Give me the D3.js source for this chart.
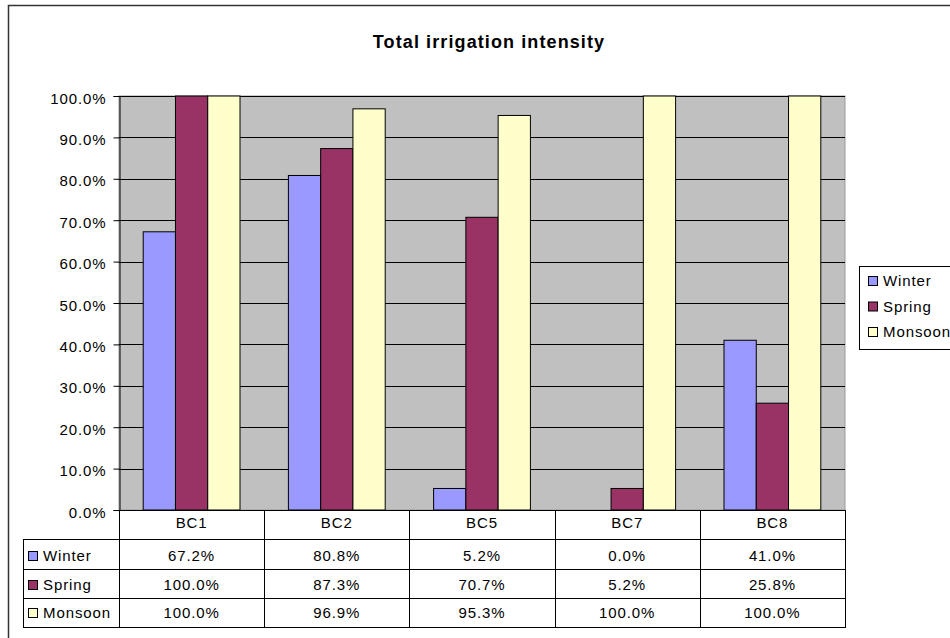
<!DOCTYPE html>
<html><head><meta charset="utf-8">
<script src="https://cdn.jsdelivr.net/npm/d3@7"></script>
<style>
html,body{margin:0;padding:0;background:#fff;}
svg text{font-family:"Liberation Sans",Arial,sans-serif;}
</style></head>
<body>
<svg id="c" width="950" height="638"></svg>
<script>
const categories = ["BC1","BC2","BC5","BC7","BC8"];
const seriesNames = ["Winter","Spring","Monsoon"];
const winter = [67.2, 80.8, 5.2, 0.0, 41.0];
const spring = [100.0, 87.3, 70.7, 5.2, 25.8];
const monsoon = [100.0, 96.9, 95.3, 100.0, 100.0];
const yTicks = [0,10,20,30,40,50,60,70,80,90,100];
const colors = ["#9999FF","#993366","#FFFFCC"];
const seriesValues = [winter, spring, monsoon];

const svg = d3.select("#c");
const L = 119, R = 845, T = 96, B = 510;
const fs = 15, ls = 0.9;

// outer border
svg.append("rect").attr("x",8.5).attr("y",5.5).attr("width",960).attr("height",640)
  .attr("fill","#fff").attr("stroke","#333").attr("stroke-width",1.5);

svg.append("text").attr("x",489).attr("y",48).attr("text-anchor","middle")
  .attr("font-size",18).attr("font-weight","bold").attr("letter-spacing",1.1)
  .text("Total irrigation intensity");

const x0 = d3.scaleBand().domain(categories).range([L,R]).paddingInner(0).paddingOuter(0);
const x1 = d3.scaleBand().domain(seriesNames).range([0,x0.bandwidth()]).paddingInner(0).paddingOuter(0.75);
const y = d3.scaleLinear().domain([0,100]).range([B,T]);

svg.append("rect").attr("x",L).attr("y",T).attr("width",R-L).attr("height",B-T)
  .attr("fill","#C0C0C0").attr("stroke","#999").attr("stroke-width",1);

// gridlines
svg.append("g").selectAll("line").data(yTicks.filter(d=>d>0)).join("line")
  .attr("x1",L).attr("x2",R).attr("y1",d=>Math.round(y(d))+0.5).attr("y2",d=>Math.round(y(d))+0.5)
  .attr("stroke","#000").attr("stroke-width",1);

// bars
seriesNames.forEach((s,si)=>{
  svg.append("g").selectAll("rect").data(categories).join("rect")
    .attr("x",(c)=>x0(c)+x1(s))
    .attr("y",(c,i)=>y(seriesValues[si][i]))
    .attr("width",x1.bandwidth())
    .attr("height",(c,i)=>B-y(seriesValues[si][i]))
    .attr("fill",colors[si]).attr("stroke","#000").attr("stroke-width",1);
});

// y axis
const yAxis = d3.axisLeft(y).tickValues(yTicks).tickSize(6).tickPadding(8)
  .tickFormat(d=>d3.format(".1f")(d)+"%");
const ga = svg.append("g").attr("transform",`translate(${L+0.5},0)`).call(yAxis);
ga.select(".domain").attr("stroke","#000");
ga.selectAll(".tick line").attr("stroke","#000");
ga.selectAll("text").attr("font-size",fs).attr("fill","#000").attr("letter-spacing",ls)
  .attr("dy",null).attr("y",7).attr("x",-13)
  .attr("font-family","Liberation Sans, Arial, sans-serif");

// table
const rowsY = [510,539,569,598,627];
const baseY = [528,561,590,618];
const tL = 23;
const tg = svg.append("g");
tg.append("line").attr("x1",L).attr("x2",R).attr("y1",rowsY[0]+0.5).attr("y2",rowsY[0]+0.5).attr("stroke","#000");
for(let r=1;r<rowsY.length;r++){
  tg.append("line").attr("x1",tL).attr("x2",R+1).attr("y1",rowsY[r]+0.5).attr("y2",rowsY[r]+0.5).attr("stroke","#000");
}
tg.append("line").attr("x1",tL+0.5).attr("x2",tL+0.5).attr("y1",rowsY[1]).attr("y2",rowsY[4]+1).attr("stroke","#000");
categories.forEach(c=>{
  const xx = Math.round(x0(c))+0.5;
  tg.append("line").attr("x1",xx).attr("x2",xx).attr("y1",B).attr("y2",rowsY[4]+1).attr("stroke","#000");
});
tg.append("line").attr("x1",R+0.5).attr("x2",R+0.5).attr("y1",B).attr("y2",rowsY[4]+1).attr("stroke","#000");
tg.selectAll("text.h").data(categories).join("text").attr("class","h")
  .attr("x",c=>x0(c)+x0.bandwidth()/2).attr("y",baseY[0])
  .attr("text-anchor","middle").attr("font-size",fs).attr("letter-spacing",ls).text(c=>c);
seriesNames.forEach((s,si)=>{
  const by = baseY[si+1];
  tg.append("rect").attr("x",28.5).attr("y",by-9.5).attr("width",9).attr("height",9)
    .attr("fill",colors[si]).attr("stroke","#000");
  tg.append("text").attr("x",43).attr("y",by).attr("font-size",fs).attr("letter-spacing",ls).text(s);
  tg.selectAll("text.v"+si).data(categories).join("text").attr("class","v"+si)
    .attr("x",c=>x0(c)+x0.bandwidth()/2).attr("y",by)
    .attr("text-anchor","middle").attr("font-size",fs).attr("letter-spacing",ls)
    .text((c,i)=>d3.format(".1f")(seriesValues[si][i])+"%");
});

// legend
const lg = svg.append("g");
lg.append("rect").attr("x",859.5).attr("y",266.5).attr("width",120).attr("height",83)
  .attr("fill","#fff").attr("stroke","#000");
const legBase = [286,311.5,337];
seriesNames.forEach((s,si)=>{
  const by = legBase[si];
  lg.append("rect").attr("x",868.5).attr("y",by-9.5).attr("width",9).attr("height",9)
    .attr("fill",colors[si]).attr("stroke","#000");
  lg.append("text").attr("x",883).attr("y",by).attr("font-size",fs).attr("letter-spacing",ls).text(s);
});
</script>
</body></html>
